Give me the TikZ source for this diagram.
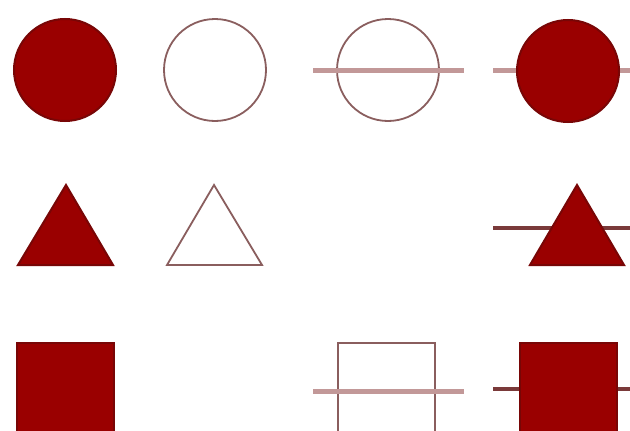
\documentclass[tikz,border=0pt]{standalone}
\definecolor{symfill}{HTML}{9A0000}
\definecolor{symedge}{HTML}{780606}
\definecolor{openedge}{HTML}{8A5E5E}
\definecolor{pinkline}{HTML}{C29898}
\definecolor{darkline}{HTML}{7A3A3A}
\tikzset{
  filledsym/.style={fill=symfill, draw=symedge, line width=2pt},
  opensym/.style={draw=openedge, line width=1.8pt},
  paleline/.style={draw=pinkline, line width=5pt},
  darkbar/.style={draw=darkline, line width=3.5pt},
  disc/.style={circle, minimum size=102pt, inner sep=0pt},
  sqbox/.style={rectangle, minimum size=97pt, inner sep=0pt},
}
\begin{document}
\begin{tikzpicture}[x=1pt,y=-1pt]
\clip (0,0) rectangle (630,431);
\fill[white] (0,0) rectangle (630,431);
% row 1: circles
\node[disc, filledsym] (c1) at (65,70) {};
\node[disc, opensym] (c2) at (215,70) {};
\node[disc, opensym] (c3) at (388,70) {};
\coordinate (c3l) at (313,70);
\coordinate (c3r) at (464,70);
\draw[paleline] (c3l) -- (c3r);
\coordinate (c4l) at (493,70);
\coordinate (c4r) at (645,70);
\draw[paleline] (c4l) -- (c4r);
\node[disc, filledsym] (c4) at (568,71) {};
% row 2: triangles
\coordinate (t1) at (66,185);
\draw[filledsym] (t1) -- (113,265) -- (18,265) -- cycle;
\coordinate (t2) at (214,185);
\draw[opensym, line join=miter] (t2) -- (262,265) -- (167,265) -- cycle;
\coordinate (t4l) at (493,228);
\coordinate (t4r) at (645,228);
\draw[darkbar] (t4l) -- (t4r);
\coordinate (t4) at (577,185);
\draw[filledsym] (t4) -- (624,265) -- (530,265) -- cycle;
% row 3: squares
\node[sqbox, filledsym] (s1) at (65.5,391) {};
\node[sqbox, opensym] (s3) at (386.5,391.5) {};
\coordinate (s3l) at (313,391);
\coordinate (s3r) at (464,391);
\draw[paleline] (s3l) -- (s3r);
\coordinate (s4l) at (493,389);
\coordinate (s4r) at (645,389);
\draw[darkbar] (s4l) -- (s4r);
\node[sqbox, filledsym] (s4) at (568.5,391) {};
\end{tikzpicture}
\end{document}
